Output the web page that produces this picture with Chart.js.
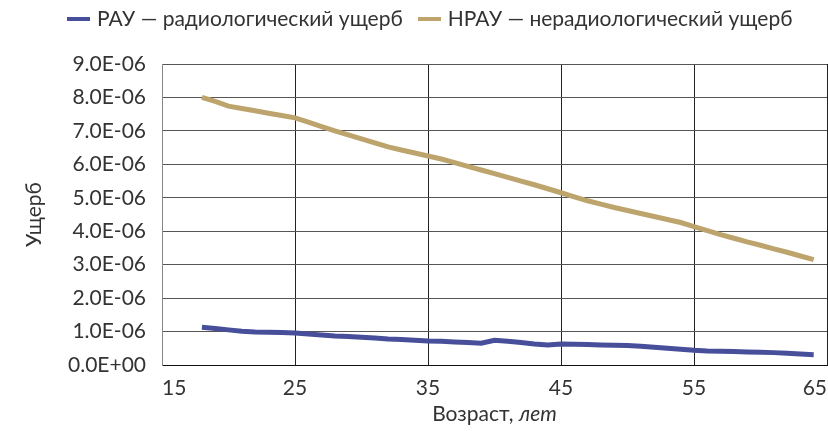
<!DOCTYPE html>
<html>
<head>
<meta charset="utf-8">
<script src="https://cdn.jsdelivr.net/npm/chart.js@4"></script>
<style>
  html, body { margin: 0; padding: 0; background: #fff; }
  #wrap { position: relative; width: 828px; height: 431px; overflow: hidden; }
  #legend { position: absolute; left: 67px; top: 5px; white-space: nowrap; font: 21px Lato, sans-serif; color: #333; }
  #legend span.mk { display: inline-block; width: 23px; height: 4px; vertical-align: middle; margin-right: 7px; position: relative; top: -2px; }
  #legend span.item { margin-right: 15px; }
  #xtitle { position: absolute; left: 162px; width: 665px; top: 400px; text-align: center; font: 21px Lato, sans-serif; color: #333; }
</style>
</head>
<body>
<div id="wrap">
  <div id="legend"></div>
  <canvas id="chart" width="828" height="431"></canvas>
  <div id="xtitle">Возраст, <i>лет</i></div>
</div>
<script>
const ages = [18,19,20,21,22,23,24,25,26,27,28,29,30,31,32,33,34,35,36,37,38,39,40,41,
  42,43,44,45,46,47,48,49,50,51,52,53,54,55,56,57,58,59,60,61,62,63,64];

// РАУ
const rau = [1.13e-6,1.09e-6,1.05e-6,1.01e-6,0.99e-6,0.98e-6,0.97e-6,0.96e-6,0.93e-6,0.90e-6,
  0.87e-6,0.85e-6,0.83e-6,0.81e-6,0.78e-6,0.76e-6,0.74e-6,0.72e-6,0.71e-6,0.69e-6,0.67e-6,
  0.65e-6,0.74e-6,0.71e-6,0.67e-6,0.63e-6,0.60e-6,0.63e-6,0.62e-6,0.61e-6,0.60e-6,0.59e-6,
  0.58e-6,0.56e-6,0.53e-6,0.50e-6,0.47e-6,0.44e-6,0.42e-6,0.41e-6,0.40e-6,0.39e-6,0.38e-6,
  0.37e-6,0.35e-6,0.33e-6,0.31e-6];

// НРАУ
const nrau = [8.00e-6,7.88e-6,7.74e-6,7.67e-6,7.60e-6,7.53e-6,7.46e-6,7.39e-6,7.26e-6,7.13e-6,
  7.00e-6,6.88e-6,6.76e-6,6.64e-6,6.52e-6,6.43e-6,6.34e-6,6.25e-6,6.16e-6,6.05e-6,5.94e-6,
  5.83e-6,5.72e-6,5.61e-6,5.50e-6,5.39e-6,5.27e-6,5.15e-6,5.03e-6,4.91e-6,4.81e-6,4.71e-6,
  4.62e-6,4.53e-6,4.44e-6,4.35e-6,4.26e-6,4.14e-6,4.02e-6,3.90e-6,3.79e-6,3.68e-6,3.58e-6,
  3.47e-6,3.37e-6,3.26e-6,3.15e-6];

const seriesNames = ["РАУ — радиологический ущерб", "НРАУ — нерадиологический ущерб"];
const seriesColors = ["#474f9a", "#bca46c"];
const xTicks = [15, 25, 35, 45, 55, 65];

function fmtExp(v) {
  const [m, e] = v.toExponential(1).split("e");
  const sign = e[0] === "-" ? "-" : "+";
  const d = e.replace(/[+-]/, "").padStart(2, "0");
  return m + "E" + sign + d;
}

const legend = document.getElementById("legend");
seriesNames.forEach((n, i) => {
  const s = document.createElement("span");
  s.className = "item";
  s.innerHTML = `<span class="mk" style="background:${seriesColors[i]}"></span>${n}`;
  legend.appendChild(s);
});

const font = { family: "Lato, sans-serif", size: 21 };

new Chart(document.getElementById("chart"), {
  type: "line",
  data: {
    datasets: [
      { label: seriesNames[0], data: ages.map((a, i) => ({ x: a, y: rau[i] })), borderColor: seriesColors[0], borderWidth: 5, pointRadius: 0, tension: 0 },
      { label: seriesNames[1], data: ages.map((a, i) => ({ x: a, y: nrau[i] })), borderColor: seriesColors[1], borderWidth: 5, pointRadius: 0, tension: 0 }
    ]
  },
  options: {
    responsive: false,
    animation: false,
    layout: { padding: { top: 64, right: 1, left: 0, bottom: 0 } },
    plugins: { legend: { display: false }, tooltip: { enabled: false } },
    scales: {
      x: {
        type: "linear", min: 15, max: 65,
        afterBuildTicks: s => { s.ticks = xTicks.map(v => ({ value: v })); },
        ticks: { font, color: "#333", padding: 11, maxRotation: 0, align: "inner" },
        grid: { color: "#222", drawTicks: false },
        border: { color: "#111" },
        afterFit: s => { s.height = 66; s.paddingLeft = 0; s.paddingRight = 0; }
      },
      y: {
        min: 0, max: 9e-6,
        ticks: { stepSize: 1e-6, font, color: "#333", padding: 16, callback: v => fmtExp(v) },
        grid: { color: "#555", drawTicks: false },
        border: { color: "#888" },
        title: { display: true, text: "Ущерб", font, color: "#333", padding: { top: 22, bottom: 0 } },
        afterFit: s => { s.width = 162; s.paddingTop = 0; s.paddingBottom = 0; }
      }
    }
  }
});
</script>
</body>
</html>
